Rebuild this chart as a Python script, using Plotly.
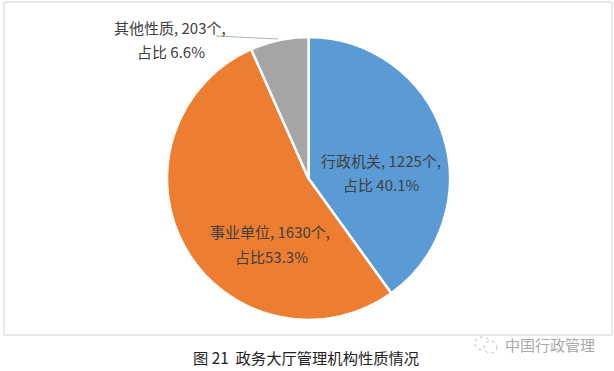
import plotly.graph_objects as go

categories = ["行政机关", "事业单位", "其他性质"]
values = [1225, 1630, 203]
colors = ["#5B9BD5", "#ED7D31", "#A5A5A5"]
label_line1 = ["行政机关, 1225个,", "事业单位, 1630个,", "其他性质, 203个,"]
label_line2 = ["占比 40.1%", "占比53.3%", "占比 6.6%"]
title_text = "图 21  政务大厅管理机构性质情况"
watermark = "中国行政管理"
W, H = 614, 371
FONT = "Noto Sans CJK SC"

def px(x): return x / W
def py(y): return 1 - y / H

fig = go.Figure(go.Pie(
    labels=categories, values=values, sort=False, direction="clockwise", rotation=0,
    marker=dict(colors=colors, line=dict(color="white", width=2.5)),
    textinfo="none", hoverinfo="skip", showlegend=False,
    domain=dict(x=[px(167), px(450)], y=[py(320), py(37)]),
))

def note(x, y, text, size=15, color="#404040"):
    return dict(x=px(x), y=py(y), xref="paper", yref="paper", text=text, showarrow=False,
                xanchor="center", yanchor="middle", align="center",
                font=dict(size=size, color=color, family=FONT))

line1_pos = [(381, 160), (270, 231), (170, 27)]
line2_pos = [(381, 185), (271, 256), (171, 51)]
anns = [note(x, y, t) for (x, y), t in zip(line1_pos, label_line1)]
anns += [note(x, y, t) for (x, y), t in zip(line2_pos, label_line2)]
anns.append(note(306, 357, title_text, size=15.3, color="#222222"))
anns.append(note(550, 344, watermark, size=15, color="#a8a8a8"))

def ring(x0, y0, x1, y1):
    return dict(type="circle", xref="paper", yref="paper",
                x0=px(x0), x1=px(x1), y0=py(y1), y1=py(y0),
                line=dict(color="#bdbdbd", width=1, dash="dot"), fillcolor="white")

fig.update_layout(
    width=W, height=H, margin=dict(l=0, r=0, t=0, b=0), autosize=False,
    paper_bgcolor="white", plot_bgcolor="white", annotations=anns,
    shapes=[
        dict(type="rect", xref="paper", yref="paper", x0=px(4), x1=px(612), y0=py(335), y1=py(2),
             line=dict(color="#d0d0d0", width=1), fillcolor="rgba(0,0,0,0)", layer="below"),
        dict(type="line", xref="paper", yref="paper", x0=px(216), x1=px(278), y0=py(36), y1=py(39),
             line=dict(color="#b0b0b0", width=1)),
        ring(475, 337, 490, 350),
        ring(484, 341, 497, 353),
    ],
)
fig.write_html("out.html", config=dict(displayModeBar=False),
               post_script="document.body.style.margin='0';document.body.style.overflow='hidden';")
